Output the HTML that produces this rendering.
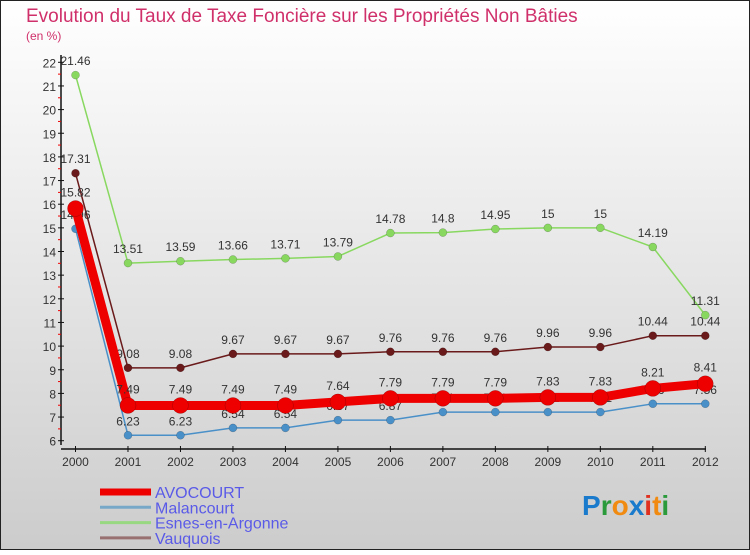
<!DOCTYPE html>
<html><head><meta charset="utf-8"><style>
body{margin:0;width:750px;height:550px;overflow:hidden;font-family:"Liberation Sans",sans-serif}
</style></head><body>
<svg id="c" width="750" height="550" xmlns="http://www.w3.org/2000/svg">
<defs><linearGradient id="bg" x1="0" y1="0" x2="0" y2="1"><stop offset="0" stop-color="#ffffff"/><stop offset="1" stop-color="#cccccc"/></linearGradient></defs>
<rect x="0.5" y="0.5" width="749" height="549" fill="url(#bg)" stroke="#222"/>
<text x="26" y="22" font-size="19" fill="#d0306a">Evolution du Taux de Taxe Foncière sur les Propriétés Non Bâties</text>
<text x="26" y="40" font-size="12" fill="#d0306a">(en %)</text>
<g id="axes"></g><g id="series"></g><g id="legend"></g>
<text x="582" y="515" font-size="28" font-weight="bold"><tspan fill="#1a7acc">P</tspan><tspan fill="#2a9a3a">r</tspan><tspan fill="#f08a10">o</tspan><tspan fill="#1a7acc">x</tspan><tspan fill="#e03020">i</tspan><tspan fill="#f08a10">t</tspan><tspan fill="#2a9a3a">i</tspan></text>
</svg>
<script>
const years=[2000,2001,2002,2003,2004,2005,2006,2007,2008,2009,2010,2011,2012];
const yTicks=[6,7,8,9,10,11,12,13,14,15,16,17,18,19,20,21,22];
const avocourt=[15.82,7.49,7.49,7.49,7.49,7.64,7.79,7.79,7.79,7.83,7.83,8.21,8.41];
const malancourt=[14.96,6.23,6.23,6.54,6.54,6.87,6.87,7.21,7.21,7.21,7.21,7.56,7.56];
const esnes=[21.46,13.51,13.59,13.66,13.71,13.79,14.78,14.8,14.95,15,15,14.19,11.31];
const vauquois=[17.31,9.08,9.08,9.67,9.67,9.67,9.76,9.76,9.76,9.96,9.96,10.44,10.44];
const seriesNames=["AVOCOURT","Malancourt","Esnes-en-Argonne","Vauquois"];
const NS="http://www.w3.org/2000/svg";
const X=i=>75.5+i*(705.3-75.5)/(years.length-1);
const Y=v=>440.7-(v-6)*(440.7-62.3)/16;
function mk(tag,attrs,parent){const e=document.createElementNS(NS,tag);for(const k in attrs)e.setAttribute(k,attrs[k]);parent.appendChild(e);return e;}
const ax=document.getElementById('axes');
let e=mk('line',{x1:61,y1:55,x2:61,y2:445,stroke:'#111','stroke-width':1.5},ax);


e=mk('line',{x1:61,y1:449,x2:706,y2:449,stroke:'#111','stroke-width':1.5},ax);


yTicks.forEach(v=>{
  mk('line',{x1:58,y1:Y(v),x2:64,y2:Y(v),stroke:'#111'},ax);
  if(v<22) mk('line',{x1:58,y1:Y(v+0.5),x2:61,y2:Y(v+0.5),stroke:'#e00'},ax);
  const t=mk('text',{x:56,y:Y(v)+5,'font-size':12,fill:'#333','text-anchor':'end'},ax);
  t.textContent=v;
  
  
});
years.forEach((y,i)=>{
  mk('line',{x1:X(i),y1:446,x2:X(i),y2:452,stroke:'#111'},ax);
  const t=mk('text',{x:X(i),y:466,'font-size':12,fill:'#333','text-anchor':'middle'},ax);
  t.textContent=y;
  
  
});
const sg=document.getElementById('series');
function draw(vals,color,w,r,name,lblDy){
  const g=mk('g',{},sg);
  
  
  const p=mk('polyline',{points:vals.map((v,i)=>X(i)+','+Y(v)).join(' '),fill:'none',stroke:color,'stroke-width':w,'stroke-linejoin':'round'},g);
  
  
  vals.forEach((v,i)=>{
    const c=mk('circle',{cx:X(i),cy:Y(v),r:r,fill:color,stroke:'rgba(0,0,0,0.3)','stroke-width':0.5},g);
    
    
    const t=mk('text',{x:X(i),y:Y(v)+lblDy,'font-size':12,fill:'#333','text-anchor':'middle'},g);
    t.textContent=v;
    
    
  });
}
draw(esnes,'#88d860',1.5,4,'esnes-en-argonne',-10);
draw(vauquois,'#6a1a1a',1.5,4,'vauquois',-10);
draw(malancourt,'#4a90c8',1.5,4,'malancourt',-10);
draw(avocourt,'#ee0000',9,8,'avocourt',-12);
const lg=document.getElementById('legend');
const lc=['#ee0000','#78a8c8','#98d880','#987070'],lw=[7,3,3,3];
seriesNames.forEach((n,i)=>{
  const y=492+i*15.3;
  const l=mk('line',{x1:100,y1:y,x2:151,y2:y,stroke:lc[i],'stroke-width':lw[i]},lg);
  
  
  const t=mk('text',{x:155,y:y+6,'font-size':16,fill:'#5a5ae8'},lg);
  t.textContent=n;
  
  
});
</script>
</body></html>
